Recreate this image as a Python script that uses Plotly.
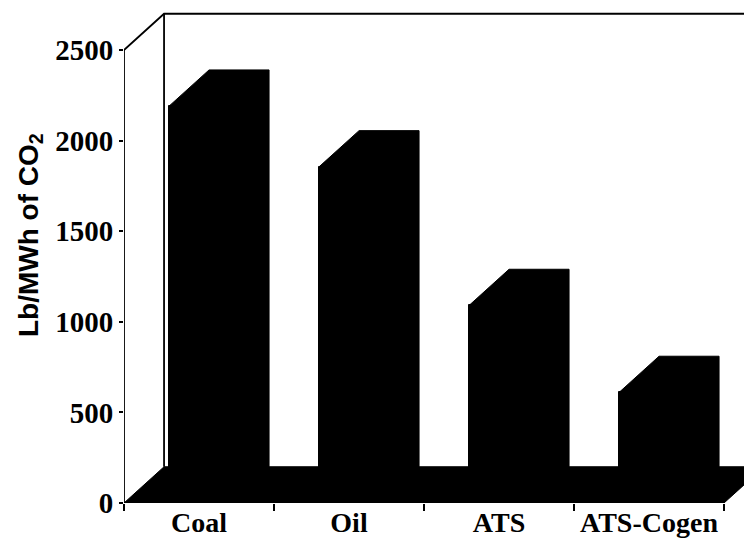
import plotly.graph_objects as go

# ---- data ----
categories = ["Coal", "Oil", "ATS", "ATS-Cogen"]
co2_lb_per_mwh = [2190, 1855, 1090, 610]
y_tick_values = [0, 500, 1000, 1500, 2000, 2500]
y_axis_max = 2500
y_title = "Lb/MWh of CO<sub>2</sub>"

# ---- pseudo-3D geometry (in data units) ----
DEPTH_X = 0.267      # horizontal depth offset, in category units
DEPTH_Y = 200        # vertical depth offset, in value units
HALF_W = 0.2         # half width of a bar's front face
X_LEFT = -0.5
X_RIGHT = len(categories) - 0.5

FIG_W, FIG_H = 744, 544          # page body adds an 8 px margin
M_L, M_R, M_T, M_B = 116, 0, 0, 49
PLOT_W = FIG_W - M_L - M_R
PLOT_H = FIG_H - M_T - M_B
X_VIEW_MAX = X_LEFT + PLOT_W / 150
Y_VIEW_MAX = PLOT_H / 0.1812

xs = list(range(len(categories)))
serif = "Liberation Serif"
sans = "Liberation Sans"

fig = go.Figure()

# frame: front axis, top slant, top back edge, back wall vertical
frame_x = [X_LEFT, X_LEFT, X_LEFT + DEPTH_X, X_VIEW_MAX + 1, None,
           X_LEFT + DEPTH_X, X_LEFT + DEPTH_X]
frame_y = [0, y_axis_max, y_axis_max + DEPTH_Y, y_axis_max + DEPTH_Y, None,
           y_axis_max + DEPTH_Y, DEPTH_Y]
fig.add_trace(go.Scatter(x=frame_x, y=frame_y, mode="lines",
                         line=dict(color="black", width=1.8),
                         hoverinfo="skip", showlegend=False))

# floor
fig.add_trace(go.Scatter(
    x=[X_LEFT, X_LEFT + DEPTH_X, X_RIGHT + DEPTH_X, X_RIGHT, X_LEFT],
    y=[0, DEPTH_Y, DEPTH_Y, 0, 0],
    mode="lines", fill="toself", fillcolor="black",
    line=dict(color="black", width=1), hoverinfo="skip", showlegend=False))

# bar front faces
fig.add_trace(go.Bar(x=xs, y=co2_lb_per_mwh, width=2 * HALF_W,
                     marker=dict(color="black", line=dict(width=1, color="black")),
                     showlegend=False))

# bar silhouettes (front, top and right side faces)
px, py = [], []
for c, v in zip(xs, co2_lb_per_mwh):
    px += [c - HALF_W, c - HALF_W, c - HALF_W + DEPTH_X, c + HALF_W + DEPTH_X,
           c + HALF_W + DEPTH_X, c + HALF_W, c - HALF_W, None]
    py += [0, v, v + DEPTH_Y, v + DEPTH_Y, DEPTH_Y, 0, 0, None]
fig.add_trace(go.Scatter(x=px, y=py, mode="lines", fill="toself",
                         fillcolor="black", line=dict(color="black", width=1),
                         hoverinfo="skip", showlegend=False))

fig.update_layout(
    width=FIG_W, height=FIG_H,
    margin=dict(l=M_L, r=M_R, t=M_T, b=M_B),
    paper_bgcolor="white", plot_bgcolor="white",
    bargap=0,
    xaxis=dict(range=[X_LEFT, X_VIEW_MAX], showgrid=False, zeroline=False,
               showline=False, tickmode="array", tickvals=xs,
               ticktext=categories, ticks="",
               tickfont=dict(family=serif, size=28, color="black",
                             weight="bold"),
               minor=dict(tickmode="array",
                          tickvals=[X_LEFT + i for i in range(len(categories) + 1)],
                          ticks="outside", ticklen=7, tickwidth=1.8,
                          tickcolor="black", showgrid=False)),
    yaxis=dict(range=[0, Y_VIEW_MAX], showgrid=False, zeroline=False,
               showline=False, tickmode="array", tickvals=y_tick_values,
               ticks="outside", ticklen=4, tickwidth=1.8, tickcolor="black",
               tickfont=dict(family=serif, size=29, color="black",
                             weight="bold")),
    annotations=[dict(text=y_title, xref="paper", yref="paper",
                      x=-0.15, y=0.541, xanchor="center", yanchor="middle",
                      textangle=-90, showarrow=False,
                      font=dict(family=sans, size=28, color="black",
                                weight="bold"))],
)

fig.write_html("out.html")
